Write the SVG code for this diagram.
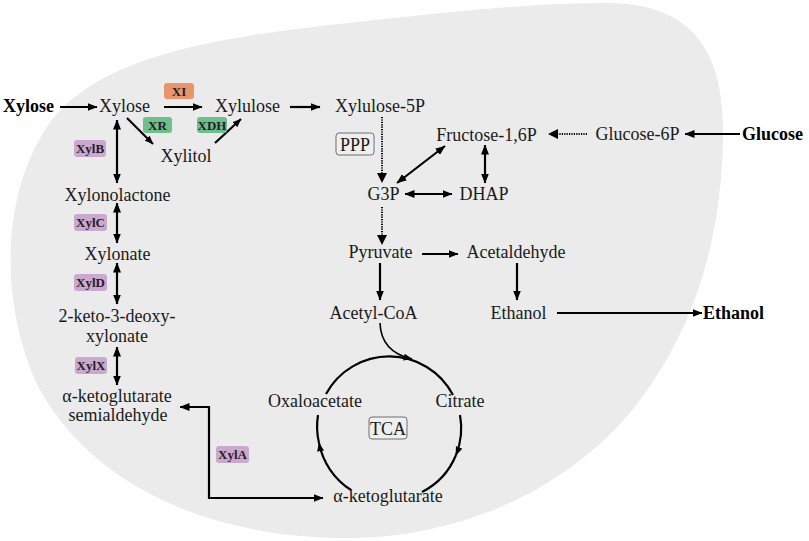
<svg xmlns="http://www.w3.org/2000/svg" width="809" height="541" viewBox="0 0 809 541">
<defs>
<marker id="ah" viewBox="0 0 10 8" refX="9.5" refY="4" markerWidth="10" markerHeight="8" markerUnits="userSpaceOnUse" orient="auto-start-reverse">
<path d="M0,0 L10,4 L0,8 Z" fill="#000"/>
</marker>
<marker id="ahs" viewBox="0 0 10 8" refX="9.5" refY="4" markerWidth="9" markerHeight="7" markerUnits="userSpaceOnUse" orient="auto-start-reverse">
<path d="M0,0 L10,4 L0,8 Z" fill="#000"/>
</marker>
<style>
text{font-family:"Liberation Serif","Times New Roman",serif;fill:#1a1a1a}
.t{font-size:18px}
.c{text-anchor:middle}
.b{font-weight:bold;fill:#000}
.e{font-size:13px;font-weight:bold;text-anchor:middle;fill:#2a1c2a}
.ln{stroke:#000;stroke-width:2.2;fill:none}
.dt{stroke:#000;stroke-width:2;fill:none;stroke-dasharray:1.2 1.2}
.one{marker-end:url(#ah)}
.two{marker-start:url(#ah);marker-end:url(#ah)}
.xi{fill:#e8956c}
.gr{fill:#6dbf8c}
.pu{fill:#c9a9cd}
.bx{fill:#efefef;stroke:#6e6e6e;stroke-width:1}
</style>
</defs>
<path id="cell" d="M600,3 C700,0 725,60 723,140 C721,230 700,320 640,400 C580,480 470,540 340,538 C200,536 90,480 40,390 C0,310 0,200 45,130 C90,60 200,40 330,25 C450,12 520,4 600,3 Z" fill="#ebebeb"/>

<g id="connectors">
<line class="ln one" x1="60" y1="107" x2="97" y2="107"/>
<line class="ln one" x1="164" y1="107" x2="202" y2="107"/>
<line class="ln one" x1="290" y1="107" x2="320" y2="107"/>
<line class="ln" x1="127" y1="118" x2="153" y2="144" style="marker-end:url(#ahs)"/>
<line class="ln" x1="215" y1="143" x2="241" y2="119" style="marker-end:url(#ahs)"/>
<line class="ln two" x1="117" y1="120" x2="117" y2="183"/>
<line class="ln two" x1="117" y1="203" x2="117" y2="243"/>
<line class="ln two" x1="117" y1="263" x2="117" y2="304"/>
<line class="ln two" x1="117" y1="347" x2="117" y2="385"/>
<polyline class="ln two" points="323,498 209,498 209,407 180,407"/>
<line class="dt" x1="382" y1="117" x2="382" y2="176"/>
<path d="M377,173 L382,183 L387,173 Z" fill="#000"/>
<line class="dt" x1="382" y1="207" x2="382" y2="238"/>
<path d="M377,235 L382,245 L387,235 Z" fill="#000"/>
<line class="dt" x1="587" y1="134" x2="556" y2="134"/>
<path d="M558,129 L548,134 L558,139 Z" fill="#000"/>
<line class="ln one" x1="740" y1="134" x2="685" y2="134"/>
<line class="ln two" x1="397" y1="183" x2="445" y2="146"/>
<line class="ln two" x1="485" y1="145" x2="485" y2="183"/>
<line class="ln two" x1="405" y1="194" x2="452" y2="194"/>
<line class="ln one" x1="422" y1="254" x2="458" y2="254"/>
<line class="ln one" x1="380" y1="263" x2="380" y2="300"/>
<line class="ln one" x1="517" y1="263" x2="517" y2="300"/>
<line class="ln one" x1="557" y1="313" x2="702" y2="313"/>
<path class="ln" d="M380,323 Q381,352 412,359" style="stroke-width:1.6;marker-end:url(#ahs)"/>
<path class="ln" d="M326,394 A72,72 0 0 1 453,395"/>
<path class="ln" d="M460,415 A72,72 0 0 1 456,455" style="marker-end:url(#ahs)"/>
<path class="ln" d="M456,455 A72,72 0 0 1 422,492"/>
<path class="ln" d="M351,490 A72,72 0 0 1 319,443" style="marker-end:url(#ahs)"/>
<path class="ln" d="M319,443 A72,72 0 0 1 318,415"/>
</g>

<g id="n-xylose-ext"><text class="t b" x="3" y="112">Xylose</text></g>
<g id="n-xylose"><text class="t" x="99" y="112">Xylose</text></g>
<g id="n-xylulose"><text class="t" x="215" y="112">Xylulose</text></g>
<g id="n-xylulose5p"><text class="t" x="335" y="112">Xylulose-5P</text></g>
<g id="n-xylitol"><text class="t c" x="186" y="162">Xylitol</text></g>
<g id="n-xylonolactone"><text class="t c" x="117.5" y="201">Xylonolactone</text></g>
<g id="n-xylonate"><text class="t c" x="117.5" y="260">Xylonate</text></g>
<g id="n-kdx"><text class="t c" x="117" y="322">2-keto-3-deoxy-</text><text class="t c" x="117" y="342">xylonate</text></g>
<g id="n-aksa"><text class="t c" x="117" y="402">α-ketoglutarate</text><text class="t c" x="118" y="421">semialdehyde</text></g>
<g id="n-akg"><text class="t c" x="388" y="502">α-ketoglutarate</text></g>
<g id="n-oxaloacetate"><text class="t c" x="315" y="407">Oxaloacetate</text></g>
<g id="n-citrate"><text class="t c" x="460" y="407">Citrate</text></g>
<g id="n-tca"><rect class="bx" x="369" y="417" width="38" height="22" rx="3"/><text class="t c" x="388" y="434.5">TCA</text></g>
<g id="n-ppp"><rect class="bx" x="336" y="133" width="38" height="22" rx="3"/><text class="t c" x="355" y="150.5">PPP</text></g>
<g id="n-fructose"><text class="t c" x="486.5" y="141">Fructose-1,6P</text></g>
<g id="n-glucose6p"><text class="t c" x="637.5" y="140">Glucose-6P</text></g>
<g id="n-glucose-ext"><text class="t b" x="742" y="140">Glucose</text></g>
<g id="n-g3p"><text class="t c" x="383.5" y="200">G3P</text></g>
<g id="n-dhap"><text class="t c" x="484" y="200">DHAP</text></g>
<g id="n-pyruvate"><text class="t c" x="380.5" y="258">Pyruvate</text></g>
<g id="n-acetaldehyde"><text class="t c" x="516" y="258">Acetaldehyde</text></g>
<g id="n-acetylcoa"><text class="t c" x="373.5" y="319">Acetyl-CoA</text></g>
<g id="n-ethanol"><text class="t c" x="518.5" y="319">Ethanol</text></g>
<g id="n-ethanol-ext"><text class="t b" x="703" y="319">Ethanol</text></g>

<g id="enz-xi"><rect class="xi" x="164" y="83" width="30" height="16" rx="3"/><text class="e" x="179" y="95.5">XI</text></g>
<g id="enz-xr"><rect class="gr" x="143" y="117" width="29" height="16" rx="3"/><text class="e" x="157.5" y="129.5">XR</text></g>
<g id="enz-xdh"><rect class="gr" x="197" y="117" width="30" height="16" rx="3"/><text class="e" x="212" y="129.5">XDH</text></g>
<g id="enz-xylb"><rect class="pu" x="74" y="140" width="32" height="17" rx="3"/><text class="e" x="90" y="153">XylB</text></g>
<g id="enz-xylc"><rect class="pu" x="74" y="214" width="33" height="17" rx="3"/><text class="e" x="90.5" y="227">XylC</text></g>
<g id="enz-xyld"><rect class="pu" x="74" y="274" width="33" height="17" rx="3"/><text class="e" x="90.5" y="287">XylD</text></g>
<g id="enz-xylx"><rect class="pu" x="75" y="357" width="32" height="17" rx="3"/><text class="e" x="91" y="370">XylX</text></g>
<g id="enz-xyla"><rect class="pu" x="216" y="446" width="33" height="17" rx="3"/><text class="e" x="232.5" y="459">XylA</text></g>
</svg>
